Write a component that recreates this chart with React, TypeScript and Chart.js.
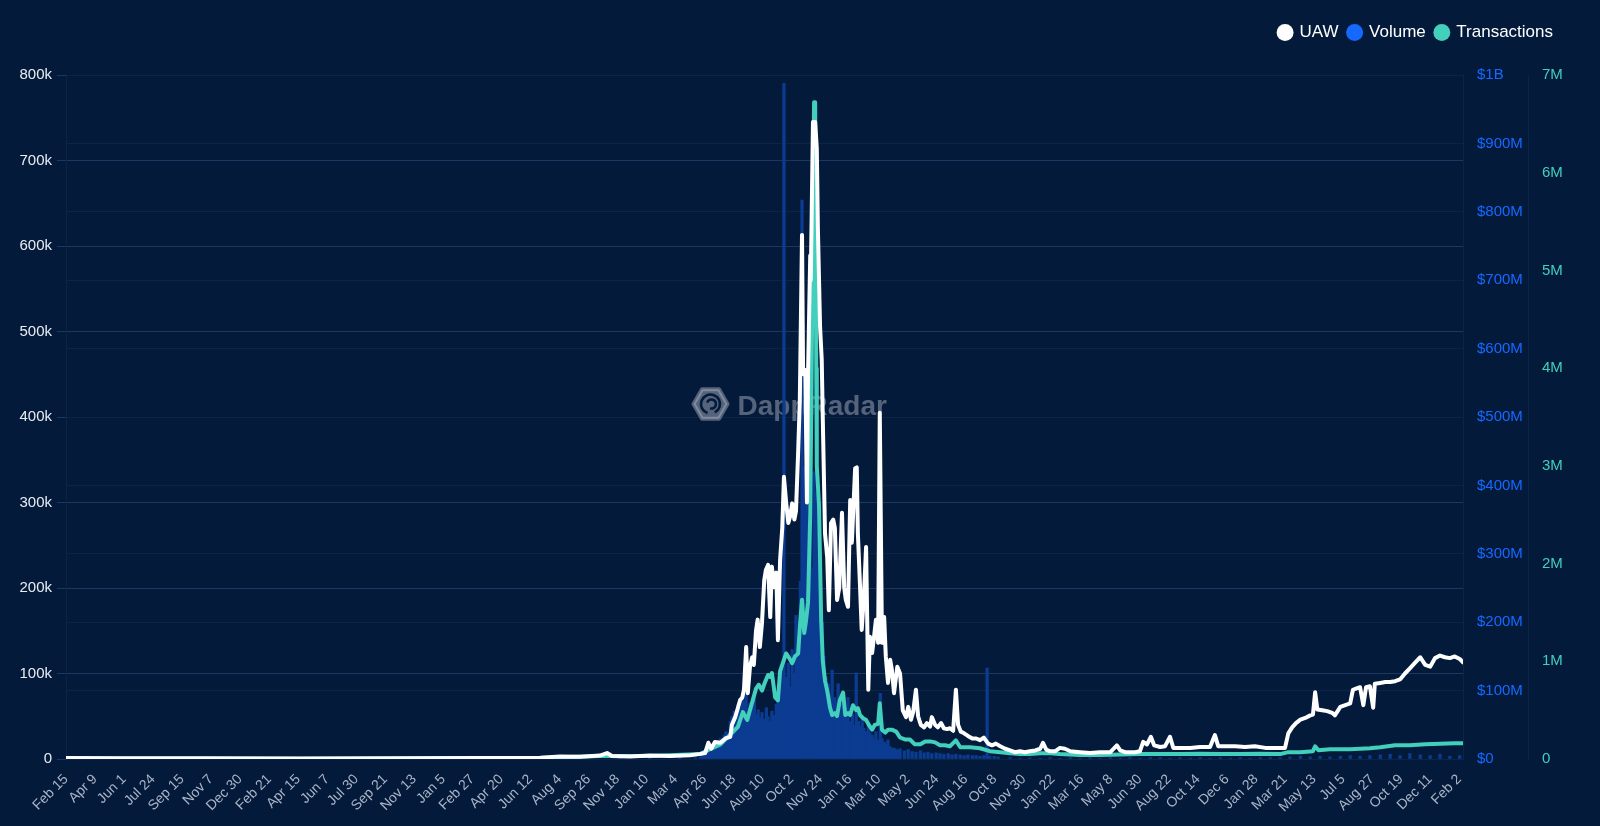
import { useEffect, useRef } from "react";
import { Chart, registerables } from "chart.js";

Chart.register(...registerables);

// Day 0 = 2018-02-15; one point per read-off day
const TICK_LABELS = [
  "Feb 15", "Apr 9", "Jun 1", "Jul 24", "Sep 15", "Nov 7", "Dec 30", "Feb 21", "Apr 15", "Jun 7",
  "Jul 30", "Sep 21", "Nov 13", "Jan 5", "Feb 27", "Apr 20", "Jun 12", "Aug 4", "Sep 26", "Nov 18",
  "Jan 10", "Mar 4", "Apr 26", "Jun 18", "Aug 10", "Oct 2", "Nov 24", "Jan 16", "Mar 10", "May 2",
  "Jun 24", "Aug 16", "Oct 8", "Nov 30", "Jan 22", "Mar 16", "May 8", "Jun 30", "Aug 22", "Oct 14",
  "Dec 6", "Jan 28", "Mar 21", "May 13", "Jul 5", "Aug 27", "Oct 19", "Dec 11", "Feb 2",
];
const TICK_STEP_DAYS = 53;
const LAST_DAY = 2551;

const UAW_DAY = [
  0, 99, 245, 427, 610, 756, 866, 902, 939, 975, 988, 997, 1030, 1066, 1103, 1140,
  1158, 1167, 1173, 1178, 1185, 1195, 1204, 1213, 1216, 1222, 1227, 1231, 1235, 1238, 1242, 1245,
  1249, 1253, 1256, 1260, 1263, 1267, 1271, 1275, 1278, 1282, 1286, 1289, 1293, 1297, 1300, 1304,
  1308, 1311, 1315, 1319, 1322, 1326, 1330, 1333, 1337, 1340, 1344, 1346, 1350, 1353, 1355, 1359,
  1360, 1364, 1368, 1371, 1373, 1377, 1380, 1382, 1386, 1390, 1393, 1397, 1401, 1404, 1408, 1412,
  1417, 1421, 1424, 1428, 1432, 1435, 1441, 1444, 1446, 1450, 1453, 1457, 1461, 1465, 1468, 1472,
  1475, 1479, 1483, 1486, 1490, 1494, 1497, 1501, 1505, 1508, 1512, 1518, 1523, 1528, 1534, 1538,
  1543, 1547, 1552, 1556, 1561, 1567, 1572, 1578, 1581, 1587, 1592, 1598, 1603, 1609, 1614, 1620,
  1625, 1629, 1634, 1640, 1647, 1655, 1662, 1669, 1676, 1684, 1691, 1698, 1706, 1715, 1724, 1733,
  1742, 1751, 1760, 1770, 1779, 1784, 1790, 1797, 1806, 1815, 1824, 1834, 1852, 1870, 1888, 1907,
  1919, 1925, 1934, 1952, 1961, 1967, 1974, 1981, 1987, 1998, 2007, 2016, 2022, 2034, 2053, 2071,
  2089, 2098, 2104, 2117, 2135, 2153, 2171, 2190, 2208, 2226, 2232, 2239, 2246, 2254, 2263, 2272,
  2277, 2281, 2285, 2294, 2303, 2312, 2317, 2327, 2336, 2345, 2350, 2358, 2363, 2369, 2374, 2381,
  2387, 2390, 2400, 2409, 2418, 2427, 2436, 2445, 2454, 2464, 2473, 2482, 2491, 2500, 2509, 2518,
  2527, 2536, 2545, 2551,
];
const UAW = [
  1200, 800, 1000, 700, 900, 1200, 1500, 3000, 2500, 4000, 7000, 3500, 3000, 4000, 3500, 4500,
  6000, 7000, 19000, 12000, 20000, 19000, 24000, 26000, 40000, 49000, 60000, 69000, 72000, 81000, 131000, 77000,
  108000, 119000, 110000, 150000, 163000, 131000, 160000, 209000, 221000, 227000, 166000, 225000, 201000, 218000, 139000, 233000,
  271000, 330000, 300000, 276000, 283000, 299000, 280000, 290000, 360000, 420000, 613000, 450000, 455000, 300000, 450000, 589000,
  560000, 745000, 745000, 714000, 620000, 505000, 467000, 396000, 264000, 236000, 174000, 276000, 280000, 270000, 186000, 200000,
  288000, 201000, 186000, 178000, 303000, 253000, 340000, 341000, 264000, 201000, 151000, 190000, 248000, 81000, 143000, 124000,
  140000, 163000, 136000, 405000, 136000, 166000, 120000, 89000, 116000, 105000, 77000, 108000, 100000, 57000, 49000, 61000,
  46000, 55000, 81000, 50000, 40000, 37000, 42000, 38000, 49000, 40000, 37000, 42000, 36000, 35000, 36000, 33000,
  81000, 40000, 32000, 30000, 27000, 24000, 24000, 22000, 25000, 18000, 16000, 18000, 15000, 12000, 10000, 8000,
  9000, 8000, 9000, 10000, 12000, 19000, 11000, 9000, 9000, 13000, 12000, 9000, 8000, 7000, 8000, 8000,
  16000, 10000, 8000, 8000, 9000, 20000, 17000, 26000, 16000, 14000, 15000, 26000, 13000, 13000, 13000, 14000,
  14000, 28000, 15000, 15000, 15000, 14000, 15000, 13000, 13000, 13000, 30000, 37000, 42000, 46000, 48000, 51000,
  52000, 78000, 58000, 57000, 56000, 54000, 51000, 61000, 63000, 65000, 81000, 83000, 84000, 63000, 84000, 85000,
  60000, 88000, 89000, 90000, 90000, 91000, 93000, 100000, 106000, 113000, 119000, 110000, 108000, 118000, 121000, 119000,
  118000, 120000, 117000, 113000,
];

const TX_DAY = [
  0, 427, 866, 975, 1066, 1158, 1176, 1195, 1213, 1227, 1236, 1244, 1249, 1254, 1260, 1265,
  1271, 1276, 1282, 1286, 1289, 1295, 1300, 1304, 1310, 1315, 1321, 1326, 1331, 1337, 1340, 1344,
  1348, 1351, 1355, 1359, 1362, 1366, 1368, 1370, 1371, 1375, 1379, 1382, 1386, 1390, 1395, 1399,
  1404, 1408, 1413, 1419, 1423, 1428, 1432, 1437, 1443, 1446, 1450, 1455, 1461, 1466, 1472, 1477,
  1483, 1486, 1490, 1496, 1501, 1508, 1516, 1523, 1532, 1541, 1550, 1560, 1569, 1578, 1587, 1596,
  1605, 1614, 1625, 1633, 1651, 1669, 1687, 1706, 1724, 1742, 1760, 1779, 1797, 1815, 1852, 1888,
  1925, 1961, 1998, 2034, 2071, 2108, 2144, 2181, 2217, 2232, 2254, 2277, 2281, 2287, 2308, 2345,
  2381, 2400, 2427, 2454, 2482, 2509, 2536, 2551,
];
const TX = [
  4000, 3000, 10000, 30000, 30000, 50000, 100000, 150000, 250000, 330000, 480000, 400000, 500000, 600000, 720000, 760000,
  700000, 780000, 860000, 840000, 880000, 630000, 600000, 900000, 1000000, 1080000, 1030000, 980000, 1050000, 1080000, 1350000, 1630000,
  1290000, 1400000, 1600000, 2500000, 4200000, 6720000, 6720000, 4000000, 3000000, 2600000, 1420000, 1000000, 800000, 700000, 530000, 450000,
  470000, 440000, 600000, 680000, 450000, 470000, 450000, 550000, 500000, 520000, 450000, 420000, 400000, 350000, 300000, 350000,
  360000, 570000, 300000, 270000, 300000, 300000, 280000, 220000, 200000, 200000, 150000, 150000, 180000, 180000, 170000, 140000,
  140000, 130000, 190000, 120000, 120000, 110000, 80000, 70000, 60000, 50000, 50000, 60000, 60000, 50000, 40000, 40000,
  45000, 50000, 50000, 50000, 55000, 50000, 50000, 55000, 50000, 70000, 70000, 80000, 130000, 90000, 100000, 100000,
  110000, 120000, 140000, 140000, 150000, 155000, 160000, 160000,
];

const VOL_DAY = [
  62, 245, 427, 610, 756, 866, 939, 1012, 1066, 1121, 1149,
  1158, 1162, 1165, 1169, 1173, 1176, 1180, 1184, 1187, 1191,
  1195, 1198, 1202, 1205, 1209, 1213, 1216, 1220, 1224, 1227,
  1231, 1235, 1238, 1242, 1246, 1249, 1253, 1257, 1260, 1264,
  1268, 1271, 1275, 1279, 1282, 1286, 1289, 1293, 1297, 1300,
  1304, 1308, 1311, 1315, 1319, 1322, 1326, 1330, 1333, 1337,
  1341, 1344, 1348, 1352, 1355, 1359, 1363, 1366, 1370, 1373,
  1377, 1381, 1384, 1388, 1392, 1395, 1399, 1403, 1406, 1410,
  1414, 1417, 1421, 1425, 1428, 1432, 1436, 1439, 1443, 1447,
  1450, 1454, 1457, 1461, 1465, 1468, 1472, 1476, 1479, 1483,
  1487, 1490, 1494, 1498, 1501, 1505, 1509, 1512, 1516, 1520, 1523,
  1531, 1538, 1545, 1552, 1560, 1567, 1574, 1581, 1589, 1596, 1603, 1611, 1618,
  1625, 1633, 1640, 1647, 1655, 1662, 1669, 1676, 1682, 1687, 1695, 1702,
  1724, 1742, 1760, 1779, 1797, 1815, 1834, 1852, 1870, 1888, 1907, 1925, 1943, 1961, 1980, 1998,
  2016, 2034, 2053, 2071, 2089, 2108, 2126, 2144, 2162, 2181, 2199, 2217, 2235, 2254, 2272, 2290,
  2308, 2327, 2345, 2363, 2381, 2400, 2418, 2436, 2454, 2473, 2491, 2509, 2527, 2545,
];
// volume in millions of USD
const VOL_M = [
  0.3, 0.4, 0.3, 0.5, 0.5, 1, 1.5, 1, 2, 2, 2,
  3, 5, 8, 6, 12, 9, 15, 18, 22, 25,
  30, 28, 35, 40, 38, 55, 62, 70, 66, 80,
  75, 90, 85, 96, 70, 82, 76, 88, 65, 72,
  60, 68, 58, 75, 62, 55, 70, 64, 80, 95,
  110, 130, 988, 120, 140, 105, 160, 125, 210, 150,
  260, 817, 427, 380, 300, 350, 280, 420, 390, 300,
  250, 200, 150, 120, 110, 95, 130, 90, 85, 110,
  75, 80, 70, 60, 90, 55, 65, 50, 126, 55,
  48, 60, 45, 40, 50, 38, 35, 30, 40, 28,
  96, 30, 25, 22, 28, 18, 15, 16, 14, 13, 15,
  12, 14, 11, 10, 12, 9, 10, 8, 9, 8, 7, 8, 6,
  7, 6, 5, 6, 5, 5, 4, 5, 133, 4, 4, 3,
  2, 1, 2, 1, 2, 1, 2, 1, 2, 1, 2, 1, 2, 1, 2, 2,
  1, 2, 1, 2, 1, 2, 1, 2, 1, 2, 2, 2, 3, 4, 3, 4,
  3, 4, 5, 4, 5, 6, 7, 5, 8, 6, 5, 7, 4, 5,
];

const BG = "#031a3b";
const WHITE = "#ffffff";
const BLUE = "#1669ff";
const TEAL = "#42cfbc";
const BAR_BLUE = "#0b3c92";
const GRID_MAIN = "#1b3762";
const GRID_FAINT = "#0c2448";
const FONT = "'Liberation Sans', Arial, Helvetica, sans-serif";

const pts = (days: number[], vals: number[]) => days.map((d, i) => ({ x: d, y: vals[i] }));

const legendSpacer = {
  id: "legendSpacer",
  afterInit(chart: any) {
    const legend = chart.legend;
    if (!legend) return;
    const orig = legend.fit;
    legend.fit = function () {
      orig.call(this);
      this.height += 24;
    };
  },
};

const watermark = {
  id: "watermark",
  beforeDatasetsDraw(chart: any) {
    const { ctx, chartArea } = chart;
    const cx = (chartArea.left + chartArea.right) / 2;
    const cy = (chartArea.top + chartArea.bottom) / 2;
    const color = "rgba(175, 180, 195, 0.48)";
    ctx.save();
    // logo: rounded hexagon with a swirl
    const lx = cx - 54;
    const ly = cy - 13;
    const r = 17;
    ctx.beginPath();
    for (let i = 0; i < 6; i++) {
      const a = (Math.PI / 3) * i;
      const px = lx + r * Math.cos(a);
      const py = ly + r * Math.sin(a);
      if (i === 0) ctx.moveTo(px, py);
      else ctx.lineTo(px, py);
    }
    ctx.closePath();
    ctx.lineJoin = "round";
    ctx.lineWidth = 4;
    ctx.strokeStyle = color;
    ctx.fillStyle = color;
    ctx.fill();
    ctx.stroke();
    ctx.strokeStyle = BG;
    ctx.lineWidth = 2.6;
    ctx.beginPath();
    ctx.arc(lx, ly, 9.5, Math.PI * 0.6, Math.PI * 2.35);
    ctx.stroke();
    ctx.beginPath();
    ctx.arc(lx + 1, ly, 4.5, Math.PI * 1.1, Math.PI * 2.6);
    ctx.stroke();
    // word mark
    ctx.fillStyle = color;
    ctx.font = `bold 28px ${FONT}`;
    ctx.textAlign = "left";
    ctx.textBaseline = "alphabetic";
    ctx.fillText("DappRadar", cx - 27, cy - 2);
    ctx.restore();
  },
};

export default function App() {
  const ref = useRef<HTMLCanvasElement>(null);

  useEffect(() => {
    const canvas = ref.current;
    if (!canvas) return;
    const legendColors = [WHITE, BLUE, TEAL];
    const chart = new Chart(canvas, {
      type: "line",
      data: {
        datasets: [
          {
            type: "line",
            label: "UAW",
            data: pts(UAW_DAY, UAW),
            borderColor: WHITE,
            backgroundColor: WHITE,
            borderWidth: 4,
            pointRadius: 0,
            tension: 0,
            fill: false,
            borderJoinStyle: "round",
            borderCapStyle: "round",
            yAxisID: "y",
            order: 0,
          },
          {
            type: "bar",
            label: "Volume",
            data: pts(VOL_DAY, VOL_M),
            backgroundColor: BAR_BLUE,
            borderWidth: 0,
            barThickness: 2.6,
            yAxisID: "yVol",
            order: 2,
          },
          {
            type: "line",
            label: "Transactions",
            data: pts(TX_DAY, TX),
            borderColor: TEAL,
            backgroundColor: TEAL,
            borderWidth: 4,
            pointRadius: 0,
            tension: 0,
            fill: false,
            borderJoinStyle: "round",
            borderCapStyle: "round",
            yAxisID: "yTx",
            order: 1,
          },
        ] as any,
      },
      options: {
        responsive: false,
        animation: false,
        events: [],
        layout: { padding: { top: 14, right: 37, left: 0, bottom: 0 } },
        plugins: {
          legend: {
            position: "top",
            align: "end",
            labels: {
              color: "#ffffff",
              font: { family: FONT, size: 17 },
              usePointStyle: true,
              boxWidth: 12,
              boxHeight: 12,
              padding: 10,
              generateLabels: (c: any) =>
                c.data.datasets.map((ds: any, i: number) => ({
                  text: ds.label,
                  fillStyle: legendColors[i],
                  strokeStyle: legendColors[i],
                  lineWidth: 0,
                  pointStyle: "circle",
                  hidden: !c.isDatasetVisible(i),
                  datasetIndex: i,
                  fontColor: "#ffffff",
                })),
            },
          },
          tooltip: { enabled: false },
        },
        scales: {
          x: {
            type: "linear",
            min: 0,
            max: LAST_DAY,
            offset: false,
            grid: { display: false, drawTicks: false },
            border: { display: false },
            ticks: {
              stepSize: TICK_STEP_DAYS,
              includeBounds: false,
              autoSkip: false,
              maxRotation: 45,
              minRotation: 45,
              padding: 12,
              color: "#aab4c6",
              font: { family: FONT, size: 14 },
              callback: (v: any) => {
                const n = Number(v);
                if (n % TICK_STEP_DAYS !== 0) return "";
                return TICK_LABELS[n / TICK_STEP_DAYS] ?? "";
              },
            },
            afterFit: (s: any) => {
              s.height = 67;
            },
          },
          y: {
            position: "left",
            min: 0,
            max: 800000,
            ticks: {
              stepSize: 100000,
              color: "#e9edf3",
              font: { family: FONT, size: 15 },
              padding: 5,
              callback: (v: any) => (Number(v) === 0 ? "0" : `${Number(v) / 1000}k`),
            },
            grid: { color: GRID_MAIN, tickColor: GRID_MAIN, tickLength: 9 },
            border: { color: GRID_FAINT },
            afterFit: (s: any) => {
              s.width = 66;
            },
          },
          yVol: {
            position: "right",
            weight: 0,
            min: 0,
            max: 1000,
            ticks: {
              stepSize: 100,
              color: BLUE,
              font: { family: FONT, size: 15 },
              padding: 14,
              callback: (v: any) => {
                const n = Number(v);
                if (n === 0) return "$0";
                if (n >= 1000) return `$${n / 1000}B`;
                return `$${n}M`;
              },
            },
            grid: { color: GRID_FAINT, drawTicks: false },
            border: { color: GRID_FAINT },
            afterFit: (s: any) => {
              s.width = 65;
            },
          },
          yTx: {
            position: "right",
            weight: 1,
            min: 0,
            max: 7000000,
            ticks: {
              stepSize: 1000000,
              color: TEAL,
              font: { family: FONT, size: 15 },
              padding: 14,
              callback: (v: any) => (Number(v) === 0 ? "0" : `${Number(v) / 1000000}M`),
            },
            grid: { drawOnChartArea: false, drawTicks: false, color: GRID_FAINT },
            border: { color: GRID_FAINT },
            afterFit: (s: any) => {
              s.width = 35;
            },
          },
        },
      } as any,
      plugins: [legendSpacer, watermark],
    });
    return () => chart.destroy();
  }, []);

  return (
    <div
      style={{
        position: "fixed",
        left: 0,
        top: 0,
        width: 1600,
        height: 826,
        background: BG,
        overflow: "hidden",
      }}
    >
      <canvas ref={ref} width={1600} height={826} style={{ display: "block", width: 1600, height: 826 }} />
    </div>
  );
}
